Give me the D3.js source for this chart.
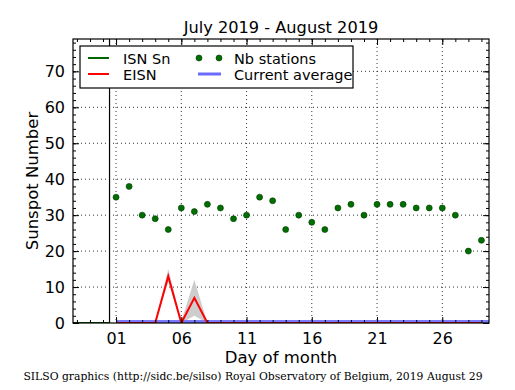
<!DOCTYPE html>
<html>
<head>
<meta charset="utf-8">
<script src="https://cdn.jsdelivr.net/npm/d3@7"></script>
<style>
  body { margin: 0; background: #fff; }
  text { font-family: "DejaVu Sans", sans-serif; fill: #000; }
</style>
</head>
<body>
<div id="chart"></div>
<script>
// data
var days = [1,2,3,4,5,6,7,8,9,10,11,12,13,14,15,16,17,18,19,20,21,22,23,24,25,26,27,28,29];
var nbStations = [35,38,30,29,26,32,31,33,32,29,30,35,34,26,30,28,26,32,33,30,33,33,33,32,32,32,30,20,23];
var eisn = [0,0,0,0,13,0,7,0,0,0,0,0,0,0,0,0,0,0,0,0,0,0,0,0,0,0,0,0,0];
var eisnLow = [0,0,0,0,11.5,0,2,0,0,0,0,0,0,0,0,0,0,0,0,0,0,0,0,0,0,0,0,0,0];
var eisnHigh = [0,0,0,0,15,0.5,12,0,0,0,0,0,0,0,0,0,0,0,0,0,0,0,0,0,0,0,0,0,0];
var isnDays = [-3,-2,-1,0,0.5];
var isnValues = [0,0,0,0,0];
var currentAvg = 0.3;
var xTicks = [1,6,11,16,21,26];
var yTicks = [0,10,20,30,40,50,60,70];

var svgWidth = 515;
var svgHeight = 390;
var margin = {top: 39, right: 26, bottom: 67, left: 73};
var width = svgWidth - margin.left - margin.right;
var height = svgHeight - margin.top - margin.bottom;

var svg = d3.select("#chart")
  .append("svg")
  .attr("width", svgWidth)
  .attr("height", svgHeight);

var chartGroup = svg.append("g")
  .attr("transform", `translate(${margin.left}, ${margin.top})`);

var x = d3.scaleLinear().domain([-2.3, 29.58]).range([0, width]);
var y = d3.scaleLinear().domain([0, 79]).range([height, 0]);

svg.append("defs").append("clipPath").attr("id", "clip")
  .append("rect").attr("width", width).attr("height", height);

// grid
chartGroup.selectAll(".gx").data(xTicks).enter().append("line")
  .attr("x1", d => x(d)).attr("x2", d => x(d))
  .attr("y1", 0).attr("y2", height)
  .attr("stroke", "#000").attr("stroke-width", 0.8)
  .attr("stroke-dasharray", "1,3");
chartGroup.selectAll(".gy").data(yTicks.slice(1)).enter().append("line")
  .attr("x1", 0).attr("x2", width)
  .attr("y1", d => y(d)).attr("y2", d => y(d))
  .attr("stroke", "#000").attr("stroke-width", 0.8)
  .attr("stroke-dasharray", "1,3");

var plot = chartGroup.append("g").attr("clip-path", "url(#clip)");

// error band
var band = d3.area()
  .x((d, i) => x(days[i]))
  .y0((d, i) => y(eisnLow[i]))
  .y1((d, i) => y(eisnHigh[i]));
plot.append("path").datum(eisn)
  .attr("d", band)
  .attr("fill", "#c8c8c8")
  .attr("opacity", 0.9);

// current average
plot.append("line")
  .attr("x1", x(1)).attr("x2", width)
  .attr("y1", y(currentAvg)).attr("y2", y(currentAvg))
  .attr("stroke", "#6b6bff").attr("stroke-width", 4).attr("opacity", 0.9);

// ISN Sn
plot.append("path").datum(isnValues)
  .attr("d", d3.line().x((d, i) => x(isnDays[i])).y(d => y(d)))
  .attr("fill", "none").attr("stroke", "#006400").attr("stroke-width", 2);

// EISN
plot.append("path").datum(eisn)
  .attr("d", d3.line().x((d, i) => x(days[i])).y(d => y(d)))
  .attr("fill", "none").attr("stroke", "red").attr("stroke-width", 2)
  .attr("stroke-linejoin", "miter");

// month boundary
chartGroup.append("line")
  .attr("x1", x(0.5)).attr("x2", x(0.5))
  .attr("y1", 0).attr("y2", height)
  .attr("stroke", "#000").attr("stroke-width", 1.2);

// Nb stations
plot.selectAll("circle").data(nbStations).enter().append("circle")
  .attr("cx", (d, i) => x(days[i]))
  .attr("cy", d => y(d))
  .attr("r", 3)
  .attr("fill", "#006e00")
  .attr("stroke", "#003a00")
  .attr("stroke-width", 0.6);

// axes (ticks inward)
var minorX = d3.range(-2, 30);
var minorY = d3.range(0, 79, 2);
var bottomAxis = d3.axisBottom(x).tickValues(xTicks).tickSize(-6).tickPadding(10)
  .tickFormat(d3.format("02d"));
var topAxis = d3.axisTop(x).tickValues(xTicks).tickSize(-6).tickFormat("");
var leftAxis = d3.axisLeft(y).tickValues(yTicks).tickSize(-6).tickPadding(8);
var rightAxis = d3.axisRight(y).tickValues(yTicks).tickSize(-6).tickFormat("");

function styleAxis(g) {
  g.select(".domain").remove();
  g.selectAll("line").attr("stroke", "#000");
  g.selectAll("text").style("font-size", "16px").style("font-family", "DejaVu Sans");
}

chartGroup.append("g").attr("transform", `translate(0, ${height})`).call(bottomAxis).call(styleAxis);
chartGroup.append("g").call(topAxis).call(styleAxis);
chartGroup.append("g").call(leftAxis).call(styleAxis);
chartGroup.append("g").attr("transform", `translate(${width}, 0)`).call(rightAxis).call(styleAxis);

// minor ticks
chartGroup.append("g").attr("transform", `translate(0, ${height})`)
  .call(d3.axisBottom(x).tickValues(minorX).tickSize(-3).tickFormat("")).call(styleAxis);
chartGroup.append("g")
  .call(d3.axisTop(x).tickValues(minorX).tickSize(-3).tickFormat("")).call(styleAxis);
chartGroup.append("g")
  .call(d3.axisLeft(y).tickValues(minorY).tickSize(-3).tickFormat("")).call(styleAxis);
chartGroup.append("g").attr("transform", `translate(${width}, 0)`)
  .call(d3.axisRight(y).tickValues(minorY).tickSize(-3).tickFormat("")).call(styleAxis);

// frame
chartGroup.append("rect")
  .attr("width", width).attr("height", height)
  .attr("fill", "none").attr("stroke", "#000").attr("stroke-width", 1.2);

// title and labels
svg.append("text")
  .attr("x", 281).attr("y", 33)
  .attr("text-anchor", "middle")
  .style("font-size", "16.2px")
  .text("July 2019 - August 2019");

svg.append("text")
  .attr("transform", "rotate(-90)")
  .attr("x", -(margin.top + height / 2)).attr("y", 38)
  .attr("text-anchor", "middle")
  .style("font-size", "16.5px")
  .text("Sunspot Number");

svg.append("text")
  .attr("x", margin.left + width / 2).attr("y", 363)
  .attr("text-anchor", "middle")
  .style("font-size", "16.5px")
  .text("Day of month");

svg.append("text")
  .attr("x", 253).attr("y", 380)
  .attr("text-anchor", "middle")
  .style("font-family", "DejaVu Serif, serif")
  .style("font-size", "10.8px")
  .text("SILSO graphics (http://sidc.be/silso) Royal Observatory of Belgium, 2019 August 29");

// legend
var legend = svg.append("g").attr("transform", "translate(80, 46)");
legend.append("rect")
  .attr("width", 273).attr("height", 42)
  .attr("fill", "#fff").attr("stroke", "#000").attr("stroke-width", 1.2);

legend.append("line").attr("x1", 8).attr("x2", 29).attr("y1", 12).attr("y2", 12)
  .attr("stroke", "#006400").attr("stroke-width", 2);
legend.append("text").attr("x", 43).attr("y", 17.5).style("font-size", "14.5px").text("ISN Sn");

legend.append("line").attr("x1", 8).attr("x2", 29).attr("y1", 28).attr("y2", 28)
  .attr("stroke", "red").attr("stroke-width", 2);
legend.append("text").attr("x", 43).attr("y", 33.5).style("font-size", "14.5px").text("EISN");

legend.selectAll(".ldot").data([119, 139]).enter().append("circle")
  .attr("cx", d => d).attr("cy", 12).attr("r", 3)
  .attr("fill", "#006e00").attr("stroke", "#003a00").attr("stroke-width", 0.6);
legend.append("text").attr("x", 154).attr("y", 17.5).style("font-size", "14.5px").text("Nb stations");

legend.append("line").attr("x1", 118).attr("x2", 141).attr("y1", 28).attr("y2", 28)
  .attr("stroke", "#6b6bff").attr("stroke-width", 3);
legend.append("text").attr("x", 154).attr("y", 33.5).style("font-size", "14.5px").text("Current average");
</script>
</body>
</html>
